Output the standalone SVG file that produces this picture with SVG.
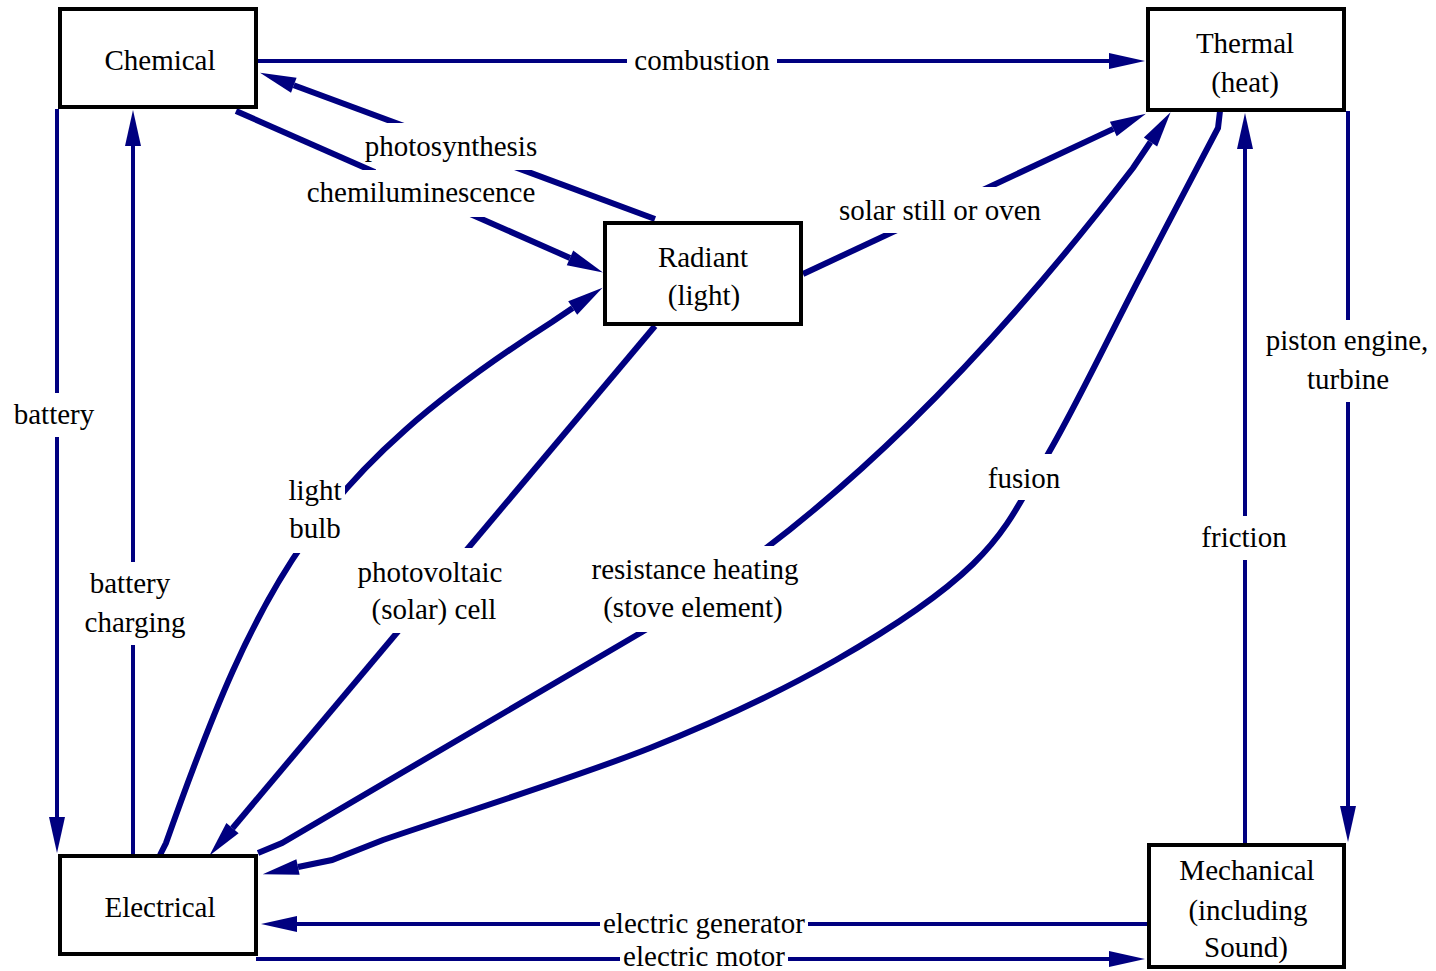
<svg xmlns="http://www.w3.org/2000/svg" width="1436" height="971" viewBox="0 0 1436 971">
<style>
.bg{fill:#fff}
.node rect{fill:#fff;stroke:#000;stroke-width:4}
text{font-family:"Liberation Serif","Times New Roman",serif;font-size:29px;text-anchor:middle;fill:#000}
.c{fill:none;stroke:#000080;stroke-width:6;marker-end:url(#ah)}
.c.t{stroke-width:4}
.lb{fill:#fff}
</style>
<defs>
<marker id="ah" markerUnits="userSpaceOnUse" viewBox="0 0 36 16" markerWidth="36" markerHeight="16" refX="0" refY="8" orient="auto" overflow="visible">
<path d="M0,0 L36,8 L0,16 z" fill="#000080"/>
</marker>
</defs>
<rect class="bg" x="0" y="0" width="1436" height="971"/>
<g id="connectors">
<path class="c t" d="M256,61 L1109,61"/>
<path class="c" d="M655,219 L293.8,85.2"/>
<path class="c" d="M236,111 L570,257.9"/>
<path class="c" d="M803,274 L1113.3,128.9"/>
<path class="c" d="M655,326 L232.5,828.2"/>
<path class="c t" d="M57,109 L57,817"/>
<path class="c t" d="M133,856 L133,146"/>
<path class="c t" d="M1147,924 L297,924"/>
<path class="c t" d="M256,959 L1109,959"/>
<path class="c t" d="M1348,111 L1348,806"/>
<path class="c t" d="M1245,845 L1245,149"/>
<path class="c" d="M160,855 L166,843 C259.5,579 316,473 552,322 L572.7,308"/>
<path class="c" d="M258,853 L282,843 L642,632 C836,518 996,346 1133,168 L1150.5,142"/>
<path class="c" d="M1220,111 L1218,128 C1204.8,153.2 1167.3,224.7 1139,279 C1110.7,333.3 1075.7,406.5 1048,454 C1020.3,501.5 1008.3,529.7 973,564 C937.7,598.3 889.8,629.3 836,660 C782.2,690.7 725.5,718 650,748 C574.5,778 436.3,821.3 383,840 L332,860 L298,867"/>
<g id="labels">
<rect class="lb" x="627" y="45" width="150" height="33"/>
<rect class="lb" x="376" y="123" width="170" height="47"/>
<rect class="lb" x="300" y="170" width="200" height="47"/>
<rect class="lb" x="830" y="187" width="220" height="46"/>
<rect class="lb" x="980" y="454" width="90" height="46"/>
<rect class="lb" x="585" y="546" width="220" height="86"/>
<rect class="lb" x="352" y="548" width="156" height="85"/>
<rect class="lb" x="284" y="472" width="61" height="81"/>
<rect class="lb" x="10" y="393" width="90" height="44"/>
<rect class="lb" x="82" y="562" width="108" height="83"/>
<rect class="lb" x="1262" y="320" width="170" height="82"/>
<rect class="lb" x="1198" y="516" width="92" height="44"/>
<rect class="lb" x="600" y="910" width="208" height="29"/>
<rect class="lb" x="620" y="946" width="168" height="25"/>
<text x="702" y="70">combustion</text>
<text x="451" y="156">photosynthesis</text>
<text x="421" y="202">chemiluminescence</text>
<text x="940" y="220">solar still or oven</text>
<text x="1024" y="488">fusion</text>
<text x="695" y="579">resistance heating</text>
<text x="693" y="617">(stove element)</text>
<text x="430" y="582">photovoltaic</text>
<text x="434" y="619">(solar) cell</text>
<text x="315" y="500">light</text>
<text x="315" y="538">bulb</text>
<text x="54" y="424">battery</text>
<text x="130" y="593">battery</text>
<text x="135" y="632">charging</text>
<text x="1347" y="350">piston engine,</text>
<text x="1348" y="389">turbine</text>
<text x="1244" y="547">friction</text>
<text x="704" y="933">electric generator</text>
<text x="704" y="966">electric motor</text>
</g>
</g>
<g id="chemical" class="node"><rect x="60" y="9" width="196" height="98"/><text x="160" y="70">Chemical</text></g>
<g id="thermal" class="node"><rect x="1148" y="9" width="196" height="101"/><text x="1245" y="53">Thermal</text><text x="1245" y="92">(heat)</text></g>
<g id="radiant" class="node"><rect x="605" y="223" width="196" height="101"/><text x="703" y="267">Radiant</text><text x="704" y="305">(light)</text></g>
<g id="electrical" class="node"><rect x="60" y="856" width="196" height="98"/><text x="160" y="917">Electrical</text></g>
<g id="mechanical" class="node"><rect x="1149" y="845" width="195" height="122"/><text x="1247" y="880">Mechanical</text><text x="1248" y="920">(including</text><text x="1246" y="957">Sound)</text></g>
</svg>
